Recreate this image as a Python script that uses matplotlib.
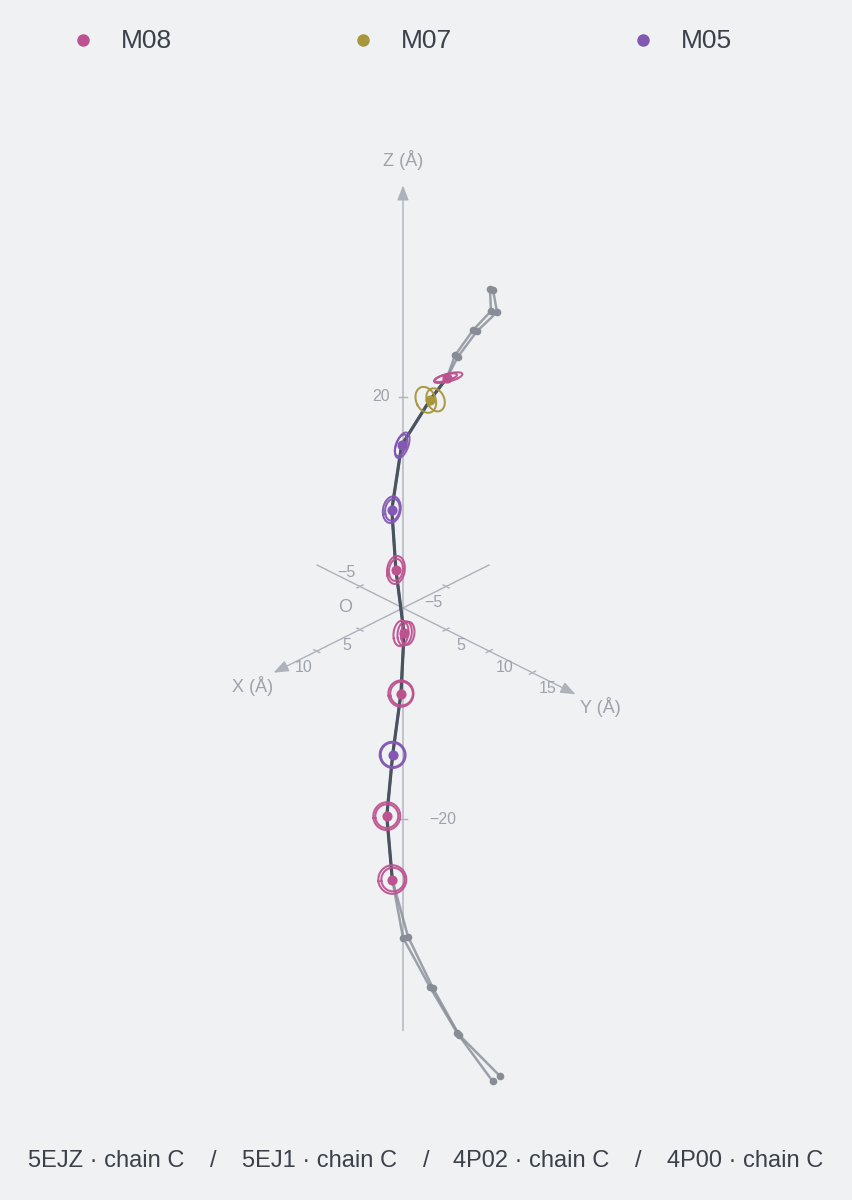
import numpy as np
import matplotlib
matplotlib.use("Agg")
import matplotlib.pyplot as plt
from matplotlib.patches import FancyArrowPatch

plt.rcParams['font.family'] = ['Liberation Sans', 'DejaVu Sans']

# ---------------- data ----------------
series_names = ['M08', 'M07', 'M05']
series_colors = {'M08': '#bd5290', 'M07': '#a8963a', 'M05': '#8258b3'}
structures = ['5EJZ · chain C', '5EJ1 · chain C', '4P02 · chain C', '4P00 · chain C']

# marked residues along the consensus trace (Å)
res_series = ['M08', 'M07', 'M05', 'M05', 'M08', 'M08', 'M08', 'M05', 'M08', 'M08']
core_x = [-2.55, -1.57, 0.08, 0.65, 0.41, -0.06, 0.12, 0.60, 0.94, 0.62]
core_y = [2.55, 1.57, -0.08, -0.65, -0.41, 0.06, -0.12, -0.60, -0.94, -0.62]
core_z = [21.8, 19.7, 15.4, 9.3, 3.6, -2.4, -8.1, -13.9, -19.7, -25.7]

# ring (spread) per residue: normal vector, radii and shift (Å)
ring_normal = [(0.01, -0.34, 0.94), (-0.10, 0.80, 0.59), (-0.21, 0.98, -0.04),
               (-0.08, 0.97, 0.21), (-0.12, 0.97, 0.22), (-0.18, 0.96, 0.20),
               (0.37, 0.79, 0.48), (0.42, 0.70, 0.57), (0.44, 0.79, 0.44),
               (0.46, 0.74, 0.49)]
ring_radii = [[1.20, 0.95], [1.10, 0.98], [1.10, 0.92], [1.10, 0.90], [1.15, 0.90],
              [1.05, 1.00, 0.95], [1.08, 0.97], [1.08, 1.00], [1.14, 0.97], [1.17, 0.97]]
ring_shift = [[0.1, -0.1], [-0.35, 0.45], [0.05, -0.05], [0.0, 0.05], [0.0, 0.0],
              [-0.25, 0.05, 0.3], [0.0, 0.05], [0.0, 0.0], [0.0, 0.0], [0.0, 0.05]]

# terminal segments of the individual chains (Å)
topA_x = [-5.04, -5.10, -4.06, -3.01]
topA_y = [5.04, 5.10, 4.06, 3.01]
topA_z = [30.2, 28.1, 26.3, 23.9]
topB_x = [-5.22, -5.45, -4.29, -3.19]
topB_y = [5.22, 5.45, 4.29, 3.19]
topB_z = [30.1, 28.0, 26.2, 23.8]
botA_x = [0.00, -1.57, -3.13, -5.20]
botA_y = [0.00, 1.57, 3.13, 5.20]
botA_z = [-31.2, -35.9, -40.2, -44.8]
botB_x = [-0.29, -1.74, -3.25, -5.62]
botB_y = [0.29, 1.74, 3.25, 5.62]
botB_z = [-31.1, -36.0, -40.4, -44.3]

x_ticks = [-5, 5, 10]
y_ticks = [-5, 5, 10, 15]
z_ticks = [-20, 20]
x_range = (-10, 15)
y_range = (-10, 20)
z_range = (-40, 40)

# ---------------- projection ----------------
ELEV = np.radians(30)
AZ = np.radians(45)
R = np.array([-np.sin(AZ), np.cos(AZ), 0.0])
U = np.array([-np.sin(ELEV) * np.cos(AZ), -np.sin(ELEV) * np.sin(AZ), np.cos(ELEV)])


def project(x, y, z):
    p = np.stack([np.atleast_1d(np.asarray(x, float)),
                  np.atleast_1d(np.asarray(y, float)),
                  np.atleast_1d(np.asarray(z, float))], axis=-1)
    return p @ R, p @ U


BG = '#eff1f3'
AXC = '#aeb2ba'
LBL = '#9ea2ab'
SCALE = 12.2  # px per Å
W, H = 852, 1200
OX, OY = 403, 608

fig = plt.figure(figsize=(W / 100, H / 100), dpi=100, facecolor=BG)
ax = fig.add_axes([0, 0, 1, 1])
ax.set_facecolor(BG)
ax.set_xlim(-OX / SCALE, (W - OX) / SCALE)
ax.set_ylim(-(H - OY) / SCALE, OY / SCALE)
ax.set_aspect('equal')
ax.axis('off')


def axis_line(p0, p1):
    u, v = project(*zip(p0, p1))
    ax.add_patch(FancyArrowPatch((u[0], v[0]), (u[1], v[1]),
                                 arrowstyle='-|>,head_length=0.9,head_width=0.35',
                                 mutation_scale=10, color=AXC, lw=1.0, zorder=1,
                                 shrinkA=0, shrinkB=0))


axis_line((x_range[0], 0, 0), (x_range[1], 0, 0))
axis_line((0, y_range[0], 0), (0, y_range[1], 0))
axis_line((0, 0, z_range[0]), (0, 0, z_range[1]))

tick_kw = dict(color=LBL, fontsize=11.5, ha='center', va='center',
               textcoords='offset pixels')
for t in x_ticks:
    u, v = project([t, t], [-0.35, 0.35], [0, 0])
    ax.plot(u, v, color=AXC, lw=1.0, zorder=1)
    ax.annotate('−5' if t < 0 else str(t), (u.mean(), v.mean()), xytext=(-13, -16), **tick_kw)
for t in y_ticks:
    u, v = project([-0.35, 0.35], [t, t], [0, 0])
    ax.plot(u, v, color=AXC, lw=1.0, zorder=1)
    off = (-13, 14) if t < 0 else (15, -16)
    ax.annotate('−5' if t < 0 else str(t), (u.mean(), v.mean()), xytext=off, **tick_kw)
for t in z_ticks:
    u, v = project([0.25, -0.25], [-0.25, 0.25], [t, t])
    ax.plot(u, v, color=AXC, lw=1.0, zorder=1)
    off = (-22, 0) if t > 0 else (40, 0)
    ax.annotate(str(t).replace('-', '−'), (u.mean(), v.mean()), xytext=off, **tick_kw)

name_kw = dict(color=LBL, fontsize=13, ha='center', va='center', textcoords='offset pixels')
u, v = project(x_range[1], 0, 0)
ax.annotate('X (Å)', (u[0], v[0]), xytext=(-21, -13), **name_kw)
u, v = project(0, y_range[1], 0)
ax.annotate('Y (Å)', (u[0], v[0]), xytext=(25, -13), **name_kw)
u, v = project(0, 0, z_range[1])
ax.annotate('Z (Å)', (u[0], v[0]), xytext=(0, 25), **name_kw)
ax.annotate('O', (0, 0), xytext=(-58, 0), **name_kw)

# ---------------- chains ----------------
GREY = '#878c95'
for tx, ty, tz, bx, by, bz in [(topA_x, topA_y, topA_z, botA_x, botA_y, botA_z),
                               (topB_x, topB_y, topB_z, botB_x, botB_y, botB_z)]:
    xs = list(tx) + core_x + list(bx)
    ys = list(ty) + core_y + list(by)
    zs = list(tz) + core_z + list(bz)
    u, v = project(xs, ys, zs)
    ax.plot(u, v, color=GREY, lw=1.8, alpha=0.8, zorder=2, solid_capstyle='round')
    for ex, ey, ez in [(tx, ty, tz), (bx, by, bz)]:
        u, v = project(ex, ey, ez)
        ax.plot(u, v, 'o', color=GREY, ms=5.5, zorder=2.5, mec='none')

u, v = project(core_x, core_y, core_z)
ax.plot(u, v, color='#4b5360', lw=2.3, zorder=3, solid_capstyle='round')

# rings
theta = np.linspace(0, 2 * np.pi, 120)
for i in range(len(core_x)):
    n = np.array(ring_normal[i], float)
    n /= np.linalg.norm(n)
    a = np.cross(n, [0.0, 0.0, 1.0]) if abs(n[2]) < 0.9 else np.cross(n, [1.0, 0.0, 0.0])
    a /= np.linalg.norm(a)
    b = np.cross(n, a)
    c = np.array([core_x[i], core_y[i], core_z[i]])
    col = series_colors[res_series[i]]
    for r, s in zip(ring_radii[i], ring_shift[i]):
        cc = c + s * R
        pts = cc[None, :] + r * (np.cos(theta)[:, None] * a + np.sin(theta)[:, None] * b)
        u, v = project(pts[:, 0], pts[:, 1], pts[:, 2])
        ax.plot(u, v, color=col, lw=1.45, alpha=0.95, zorder=4)
    u, v = project(*c)
    ax.plot(u, v, 'o', color=col, ms=7.3, mec='none', zorder=5)

# ---------------- legend ----------------
for i, name in enumerate(series_names):
    x0 = 83 + 280 * i
    fig.add_artist(plt.Line2D([x0 / W], [1 - 40 / H], marker='o', ms=9,
                              color=series_colors[name], mec='none', lw=0,
                              transform=fig.transFigure))
    fig.text((x0 + 38) / W, 1 - 41 / H, name, fontsize=19, color='#3b4049',
             ha='left', va='center')

# ---------------- caption ----------------
cap_x = [106, 319, 531, 745]
slash_x = [213, 426, 638]
for s, cx in zip(structures, cap_x):
    fig.text(cx / W, 1 - 1161 / H, s, fontsize=17, color='#3b4049', ha='center', va='center')
for sx in slash_x:
    fig.text(sx / W, 1 - 1161 / H, '/', fontsize=17, color='#3b4049', ha='center', va='center')

fig.savefig('out.png', dpi=100, facecolor=BG)
